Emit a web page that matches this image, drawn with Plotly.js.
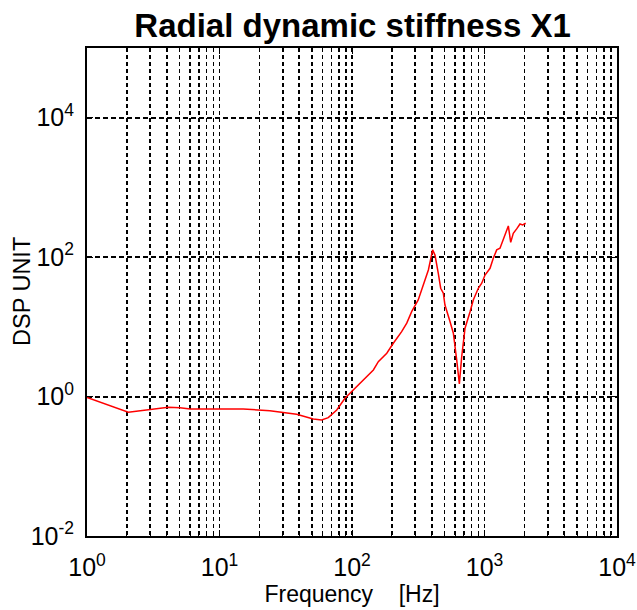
<!DOCTYPE html>
<html><head><meta charset="utf-8">
<script src="https://cdn.plot.ly/plotly-3.0.1.min.js"></script>
<style>html,body{margin:0;padding:0;background:#fff}#chart{width:637px;height:610px}</style>
</head><body><div id="chart"></div>
<script>
// Frequency (Hz) and dynamic stiffness values
const freqHz = [1, 2.05, 4.11, 5.03, 6.0, 15.1, 24.0, 38.2, 51.0, 59.0, 66.2, 76.7, 88.5,
  102, 122, 145, 158, 183, 205, 237, 259, 282, 316, 356, 377, 406, 423, 448, 467, 489,
  503, 549, 582, 617, 646, 673, 713, 778, 823, 898, 953, 1009, 1101, 1165, 1236, 1309,
  1410, 1513, 1577, 1649, 1749, 1853, 1941, 2046];
const dspUnit = [0.97, 0.595, 0.702, 0.693, 0.664, 0.664, 0.628, 0.557, 0.477, 0.462, 0.498, 0.642, 0.946,
  1.24, 1.73, 2.41, 3.17, 4.18, 5.82, 8.54, 11.3, 16.5, 24.3, 47.1, 65.5, 127, 107, 58.7, 35.8, 30.4,
  20.6, 11.9, 8.09, 3.35, 1.52, 3.74, 9.55, 16.5, 24.3, 35.8, 42.2, 55.4, 69.2, 96.3, 127, 134,
  197, 280, 163, 220, 254, 299, 290, 306];

const xTickVals = [1, 10, 100, 1000, 10000];
const xTickText = ['10<sup>0</sup>', '10<sup>1</sup>', '10<sup>2</sup>', '10<sup>3</sup>', '10<sup>4</sup>'];
const yTickVals = [0.01, 1, 100, 10000];
const yTickText = ['10<sup>-2</sup>', '10<sup>0</sup>', '10<sup>2</sup>', '10<sup>4</sup>'];
const xMinorVals = [];
for (const dec of [1, 10, 100, 1000]) for (let m = 2; m <= 9; m++) xMinorVals.push(m * dec);
const yTitle = 'DSP UNIT';

const FONT = 'Liberation Sans, Arial, Helvetica, sans-serif';
const TICKFONT = 'Liberation Sans Narrow, Arial Narrow, Liberation Sans, sans-serif';

const trace = {
  x: freqHz, y: dspUnit, type: 'scatter', mode: 'lines',
  line: {color: '#ff0000', width: 1.5}, hoverinfo: 'skip'
};

const layout = {
  width: 637, height: 610,
  margin: {l: 87, r: 20, t: 48, b: 74, pad: 0},
  paper_bgcolor: '#ffffff', plot_bgcolor: '#ffffff',
  showlegend: false,
  font: {family: FONT, color: '#000', size: 22},
  title: {
    text: '<b>Radial dynamic stiffness X1</b>',
    font: {family: FONT, size: 33, color: '#000'},
    x: 0.5535, xref: 'container', xanchor: 'center',
    y: 1 - 25/610, yref: 'container', yanchor: 'middle'
  },
  xaxis: {
    type: 'log', range: [0, 4], autorange: false,
    tickmode: 'array', tickvals: xTickVals, ticktext: xTickText,
    ticks: 'inside', ticklen: 6, tickwidth: 1, tickcolor: '#000',
    showline: true, linecolor: '#000', linewidth: 2, mirror: 'ticks',
    showgrid: true, gridcolor: '#000', gridwidth: 1.6, griddash: '4px,3px',
    zeroline: false,
    tickfont: {family: TICKFONT, size: 25, color: '#000'},
    ticklabelstandoff: 8,
    minor: {tickmode: 'array', tickvals: xMinorVals, ticks: 'inside', ticklen: 3,
            tickcolor: '#000', showgrid: true, gridcolor: '#000', gridwidth: 1.6, griddash: '4px,3px'},
    title: {text: 'Frequency    [Hz]', font: {family: FONT, size: 23, color: '#000'}, standoff: 6},
    automargin: false
  },
  yaxis: {
    type: 'log', range: [-2, 5], autorange: false,
    tickmode: 'array', tickvals: yTickVals, ticktext: yTickText,
    ticks: 'inside', ticklen: 6, tickwidth: 1, tickcolor: '#000',
    showline: true, linecolor: '#000', linewidth: 2, mirror: 'ticks',
    showgrid: true, gridcolor: '#000', gridwidth: 2, griddash: '5px,3px',
    zeroline: false,
    tickfont: {family: TICKFONT, size: 25, color: '#000'},
    ticklabelstandoff: 6,
    automargin: false
  },
  annotations: [{
    text: yTitle, textangle: -90, showarrow: false,
    xref: 'paper', yref: 'paper', x: (22 - 87) / 530, y: 0.5,
    xanchor: 'center', yanchor: 'middle',
    font: {family: FONT, size: 23.5, color: '#000'}
  }]
};

Plotly.newPlot('chart', [trace], layout, {staticPlot: true, displayModeBar: false});
</script>
</body></html>
